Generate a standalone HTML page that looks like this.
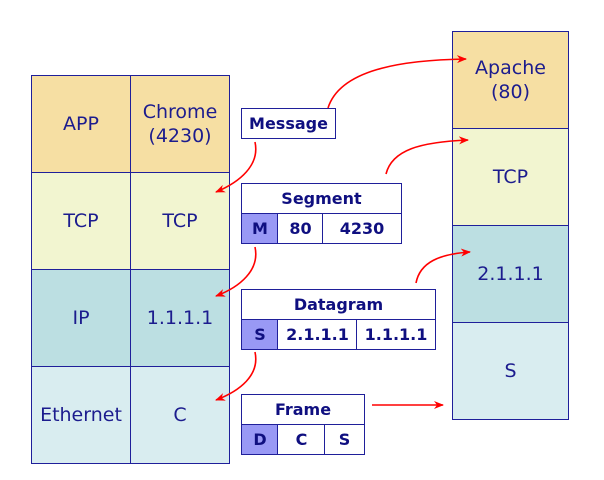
<!DOCTYPE html>
<html><head><style>
html,body{margin:0;padding:0;background:#fff;}
body{width:604px;height:480px;position:relative;overflow:hidden;font-family:"DejaVu Sans","Liberation Sans",sans-serif;}
.c{position:absolute;box-sizing:border-box;border:1.5px solid #1f1f9a;display:flex;align-items:center;justify-content:center;text-align:center;color:#1c1c8e;font-size:19px;line-height:24px;}
.b{position:absolute;box-sizing:border-box;border:1.5px solid #1f1f9a;display:flex;align-items:center;justify-content:center;color:#0f0f80;font-weight:bold;font-size:16px;background:#fff;}
.h{background:#9999f5;}
</style></head><body>
<!-- left stack -->
<div class="c" style="left:31px;top:75px;width:100px;height:98px;background:#f6dfa3">APP</div>
<div class="c" style="left:130px;top:75px;width:100px;height:98px;background:#f6dfa3">Chrome<br>(4230)</div>
<div class="c" style="left:31px;top:172px;width:100px;height:98px;background:#f2f5d0">TCP</div>
<div class="c" style="left:130px;top:172px;width:100px;height:98px;background:#f2f5d0">TCP</div>
<div class="c" style="left:31px;top:269px;width:100px;height:98px;background:#bcdfe2">IP</div>
<div class="c" style="left:130px;top:269px;width:100px;height:98px;background:#bcdfe2">1.1.1.1</div>
<div class="c" style="left:31px;top:366px;width:100px;height:98px;background:#d9edf0">Ethernet</div>
<div class="c" style="left:130px;top:366px;width:100px;height:98px;background:#d9edf0">C</div>
<!-- right stack -->
<div class="c" style="left:452px;top:31px;width:117px;height:98px;background:#f6dfa3">Apache<br>(80)</div>
<div class="c" style="left:452px;top:128px;width:117px;height:98px;background:#f2f5d0">TCP</div>
<div class="c" style="left:452px;top:225px;width:117px;height:98px;background:#bcdfe2">2.1.1.1</div>
<div class="c" style="left:452px;top:322px;width:117px;height:98px;background:#d9edf0">S</div>
<!-- message -->
<div class="b" style="left:241px;top:108px;width:95px;height:31px">Message</div>
<!-- segment -->
<div class="b" style="left:241px;top:183px;width:161px;height:31px">Segment</div>
<div class="b h" style="left:241px;top:213px;width:38px;height:31px">M</div>
<div class="b" style="left:277px;top:213px;width:47px;height:31px">80</div>
<div class="b" style="left:322px;top:213px;width:80px;height:31px">4230</div>
<!-- datagram -->
<div class="b" style="left:241px;top:289px;width:195px;height:31px">Datagram</div>
<div class="b h" style="left:241px;top:319px;width:38px;height:31px">S</div>
<div class="b" style="left:277px;top:319px;width:81px;height:31px">2.1.1.1</div>
<div class="b" style="left:356px;top:319px;width:80px;height:31px">1.1.1.1</div>
<!-- frame -->
<div class="b" style="left:241px;top:394px;width:124px;height:31px">Frame</div>
<div class="b h" style="left:241px;top:424px;width:38px;height:31px">D</div>
<div class="b" style="left:277px;top:424px;width:49px;height:31px">C</div>
<div class="b" style="left:324px;top:424px;width:41px;height:31px">S</div>
<svg width="604" height="480" style="position:absolute;left:0;top:0">
<defs><marker id="a" markerWidth="10" markerHeight="8" refX="9" refY="4" orient="auto" markerUnits="userSpaceOnUse"><path d="M0,0 L10,4 L0,8 L3,4z" fill="#f00"/></marker></defs>
<g fill="none" stroke="#f00" stroke-width="1.6" marker-end="url(#a)">
<path d="M328,108 C340,70 400,60 466,59"/>
<path d="M386,174 C392,150 420,142 468,140"/>
<path d="M416,283 C420,262 440,254 470,252"/>
<path d="M255,142 C260,165 240,182 216,192"/>
<path d="M255,247 C260,270 240,287 216,296"/>
<path d="M255,352 C260,375 240,391 216,400"/>
<path d="M372,405 L443,405"/>
</g></svg>
</body></html>
